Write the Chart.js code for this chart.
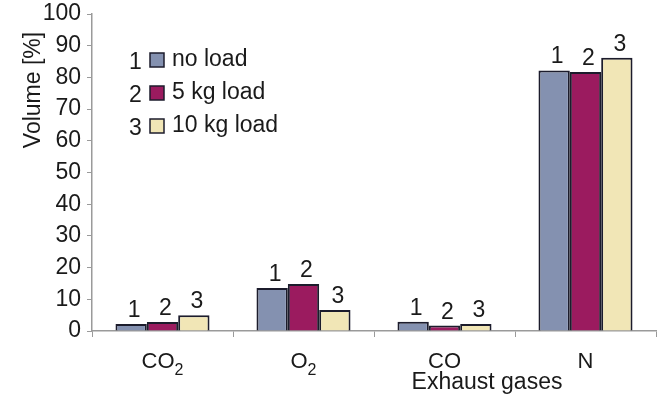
<!DOCTYPE html>
<html>
<head>
<meta charset="utf-8">
<script src="https://cdn.jsdelivr.net/npm/chart.js@4/dist/chart.umd.min.js"></script>
<style>
  html, body { margin: 0; padding: 0; background: #ffffff; }
  #wrap { width: 661px; height: 399px; position: relative; }
</style>
</head>
<body>
<div id="wrap"><canvas id="c" width="661" height="399"></canvas></div>
<script>
// Exhaust gas composition by load
const categories = ['CO2', 'O2', 'CO', 'N'];
const seriesNames = ['no load', '5 kg load', '10 kg load'];
const seriesTags = ['1', '2', '3'];
const noLoad = [2.2, 13.6, 2.9, 82.2];
const load5kg = [2.8, 14.8, 1.7, 81.7];
const load10kg = [5.0, 6.6, 2.2, 86.2];
const yTicks = [0, 10, 20, 30, 40, 50, 60, 70, 80, 90, 100];

const FONT = "'Liberation Sans', Arial, Helvetica, sans-serif";
const fills = ['#8491b0', '#9b1b5f', '#f1e6b6'];
const edge = '#1c1c2c';
const axisGrey = '#9a9a9a';
const textCol = '#1a1a1a';

const seriesValues = [noLoad, load5kg, load10kg];

// Draws text where trailing digits are rendered as subscripts
function drawChem(ctx, str, cx, baseY, size) {
  const m = str.match(/^(.*?)(\d*)$/);
  const main = m[1], sub = m[2];
  const subSize = Math.round(size * 0.72);
  ctx.font = size + 'px ' + FONT;
  const wMain = ctx.measureText(main).width;
  ctx.font = subSize + 'px ' + FONT;
  const wSub = sub ? ctx.measureText(sub).width : 0;
  const x = cx - (wMain + wSub) / 2;
  ctx.textAlign = 'left';
  ctx.textBaseline = 'alphabetic';
  ctx.font = size + 'px ' + FONT;
  ctx.fillText(main, x, baseY);
  if (sub) {
    ctx.font = subSize + 'px ' + FONT;
    ctx.fillText(sub, x + wMain, baseY + size * 0.3);
  }
}

const decor = {
  id: 'decor',
  afterDatasetsDraw(chart) {
    const ctx = chart.ctx;
    ctx.save();
    ctx.fillStyle = textCol;

    // numbers above each bar
    ctx.font = '23px ' + FONT;
    ctx.textAlign = 'center';
    ctx.textBaseline = 'alphabetic';
    chart.data.datasets.forEach((ds, di) => {
      const meta = chart.getDatasetMeta(di);
      meta.data.forEach(bar => {
        ctx.fillText(seriesTags[di], bar.x + 3, bar.y - 7);
      });
    });

    // category labels with subscripts
    const xs = chart.scales.x;
    categories.forEach((c, i) => {
      drawChem(ctx, c, xs.getPixelForValue(i), 368, 22);
    });

    // x axis title
    ctx.font = '23px ' + FONT;
    ctx.textAlign = 'center';
    ctx.fillText('Exhaust gases', 487, 389);

    // y axis title
    ctx.save();
    ctx.translate(40, 90);
    ctx.rotate(-Math.PI / 2);
    ctx.textAlign = 'center';
    ctx.font = '23px ' + FONT;
    ctx.fillText('Volume [%]', 0, 0);
    ctx.restore();

    // legend
    const rowY = [60, 93, 126];
    seriesNames.forEach((name, i) => {
      const y = rowY[i];
      ctx.font = '23px ' + FONT;
      ctx.textAlign = 'left';
      ctx.textBaseline = 'middle';
      ctx.fillStyle = textCol;
      ctx.fillText(seriesTags[i], 129, y + 3);
      ctx.fillStyle = fills[i];
      ctx.fillRect(150, y - 7, 14, 14);
      ctx.strokeStyle = edge;
      ctx.lineWidth = 1.5;
      ctx.strokeRect(150, y - 7, 14, 14);
      ctx.fillStyle = textCol;
      ctx.fillText(name, 172, y);
    });
    ctx.restore();
  }
};

new Chart(document.getElementById('c'), {
  type: 'bar',
  data: {
    labels: categories,
    datasets: seriesValues.map((vals, i) => ({
      label: seriesNames[i],
      data: vals,
      backgroundColor: fills[i],
      borderColor: edge,
      borderWidth: 2,
      borderSkipped: 'bottom',
      categoryPercentage: 0.667,
      barPercentage: 1.0
    }))
  },
  options: {
    responsive: false,
    animation: false,
    layout: { padding: { top: 0, right: 5, left: 0, bottom: 0 } },
    plugins: {
      legend: { display: false },
      tooltip: { enabled: false }
    },
    scales: {
      x: {
        offset: true,
        grid: {
          offset: true,
          drawOnChartArea: false,
          drawTicks: true,
          tickLength: 6,
          color: axisGrey
        },
        border: { color: axisGrey, width: 1.5 },
        ticks: { display: false },
        afterFit(scale) { scale.height = 68; }
      },
      y: {
        min: 0,
        max: 100,
        afterBuildTicks(scale) { scale.ticks = yTicks.map(v => ({ value: v })); },
        grid: {
          drawOnChartArea: false,
          drawTicks: true,
          tickLength: 5,
          color: axisGrey
        },
        border: { color: axisGrey, width: 1.5 },
        ticks: {
          color: textCol,
          font: { family: FONT, size: 23 },
          padding: 6
        },
        afterFit(scale) { scale.width = 92; scale.paddingTop = 14; }
      }
    }
  },
  plugins: [decor]
});
</script>
</body>
</html>
